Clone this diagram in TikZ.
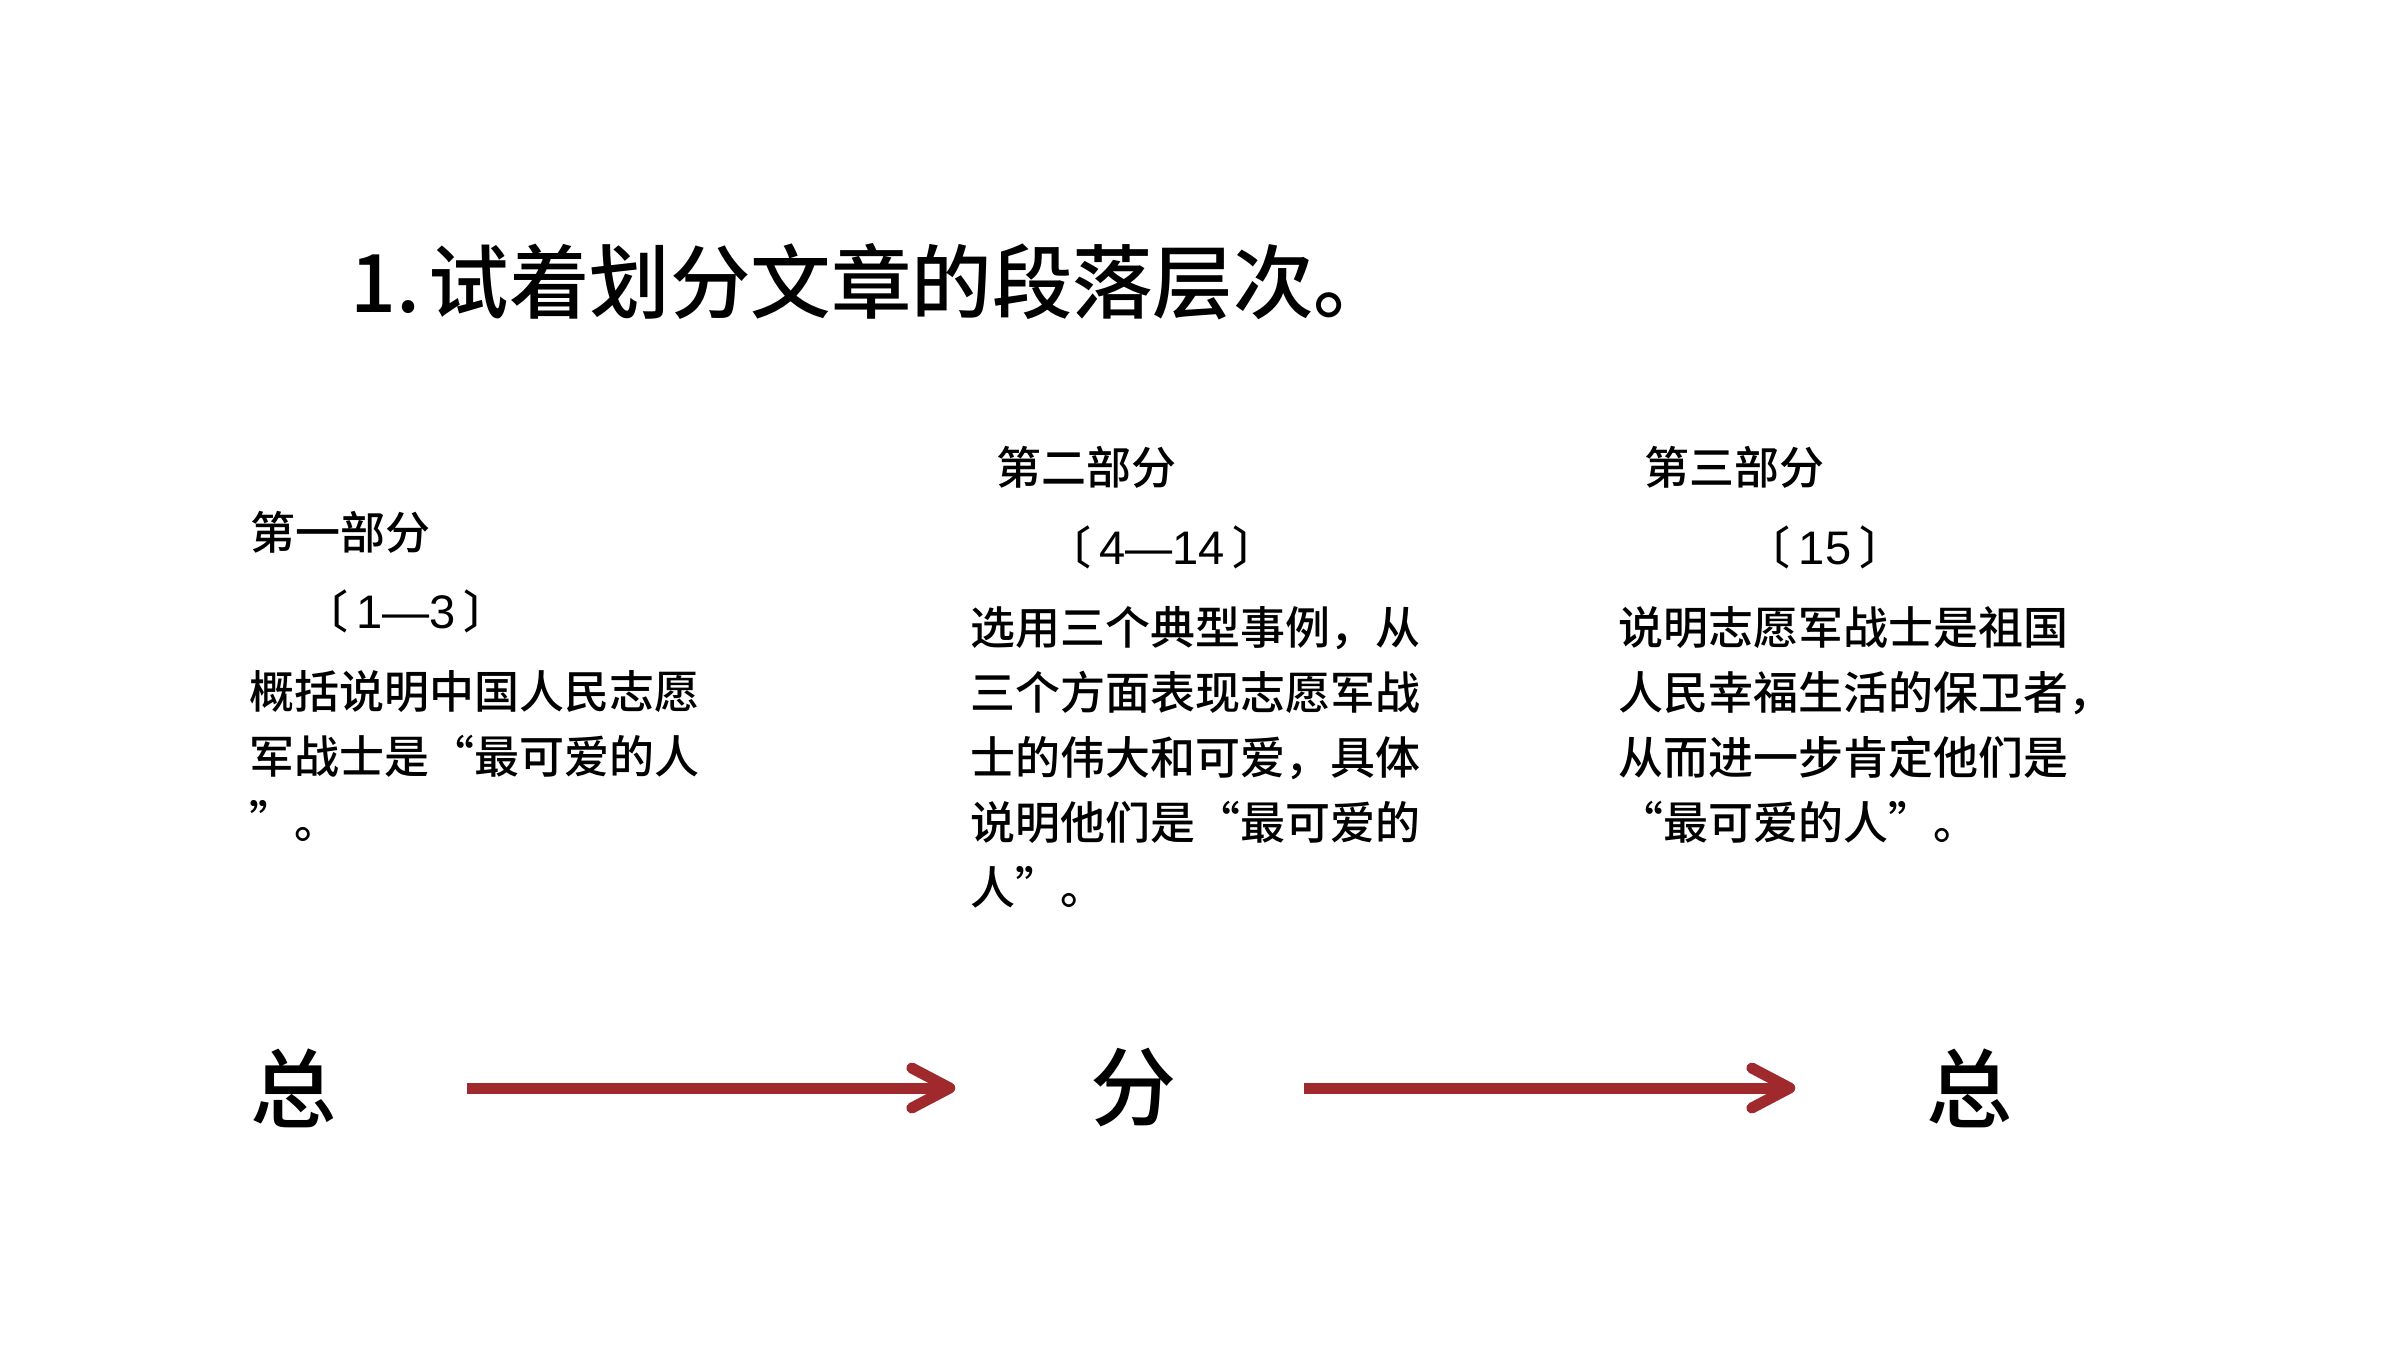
\documentclass[tikz,border=0pt]{standalone}
\usepackage{fontspec}
\newfontfamily\cjk{Noto Sans CJK SC Medium}
\newfontfamily\digits{Liberation Sans}
\usetikzlibrary{arrows.meta}
\definecolor{flowred}{RGB}{160, 41, 45}
\tikzset{
  titletext/.style={anchor=west, inner sep=0pt, font=\cjk\fontsize{22.9}{26}\selectfont},
  parttext/.style={anchor=west, inner sep=0pt, font=\cjk\fontsize{12.8}{18.5}\selectfont},
  rangetext/.style={inner sep=0pt, font=\cjk\fontsize{12.8}{18.5}\selectfont},
  bodytext/.style={anchor=north west, inner sep=0pt, align=left, font=\cjk\fontsize{12.8}{18.5}\selectfont},
  bigchar/.style={inner sep=0pt, font=\cjk\fontsize{24.5}{28}\selectfont},
  flow/.style={draw=flowred, line width=0.11cm, -{Straight Barb[length=0.38cm, width=0.4cm, round]}}
}
\newcommand{\rangenum}[1]{〔\kern0.18em{\digits\fontsize{13.4}{18.5}\selectfont #1}\kern0.18em〕}
\begin{document}
\begin{tikzpicture}
		\fill[white] (0, 0) rectangle (24, 13.5);
		\useasboundingbox (0, 0) rectangle (24, 13.5);
		\node[titletext] (title) at (3.50, 10.68) {1.\hspace{0.1em}试着划分文章的段落层次。};
		\node[parttext] (part1) at (2.50, 8.18) {第一部分};
		\node[parttext] (part2) at (9.96, 8.83) {第二部分};
		\node[parttext] (part3) at (16.44, 8.83) {第三部分};
		\node[rangetext] (range1) at (4.06, 7.39) {\rangenum{1—3}};
		\node[rangetext] (range2) at (11.62, 8.03) {\rangenum{4—14}};
		\node[rangetext] (range3) at (18.25, 8.03) {\rangenum{15}};
		\node[bodytext] (body1) at (2.49, 6.80) {概括说明中国人民志愿\\军战士是“最可爱的人\\”。};
		\node[bodytext] (body2) at (9.70, 7.44) {选用三个典型事例，从\\三个方面表现志愿军战\\士的伟大和可爱，具体\\说明他们是“最可爱的\\人”。};
		\node[bodytext] (body3) at (16.18, 7.44) {说明志愿军战士是祖国\\人民幸福生活的保卫者，\\从而进一步肯定他们是\\“最可爱的人”。};
		\node[bigchar] (zong1) at (2.94, 2.62) {总};
		\node[bigchar] (fen) at (11.34, 2.62) {分};
		\node[bigchar] (zong2) at (19.70, 2.62) {总};
		\draw[flow, shorten <=1.29cm, shorten >=1.35cm] (zong1.east) -- (fen.west);
		\draw[flow, shorten <=1.26cm, shorten >=1.31cm] (fen.east) -- (zong2.west);
\end{tikzpicture}
\end{document}
